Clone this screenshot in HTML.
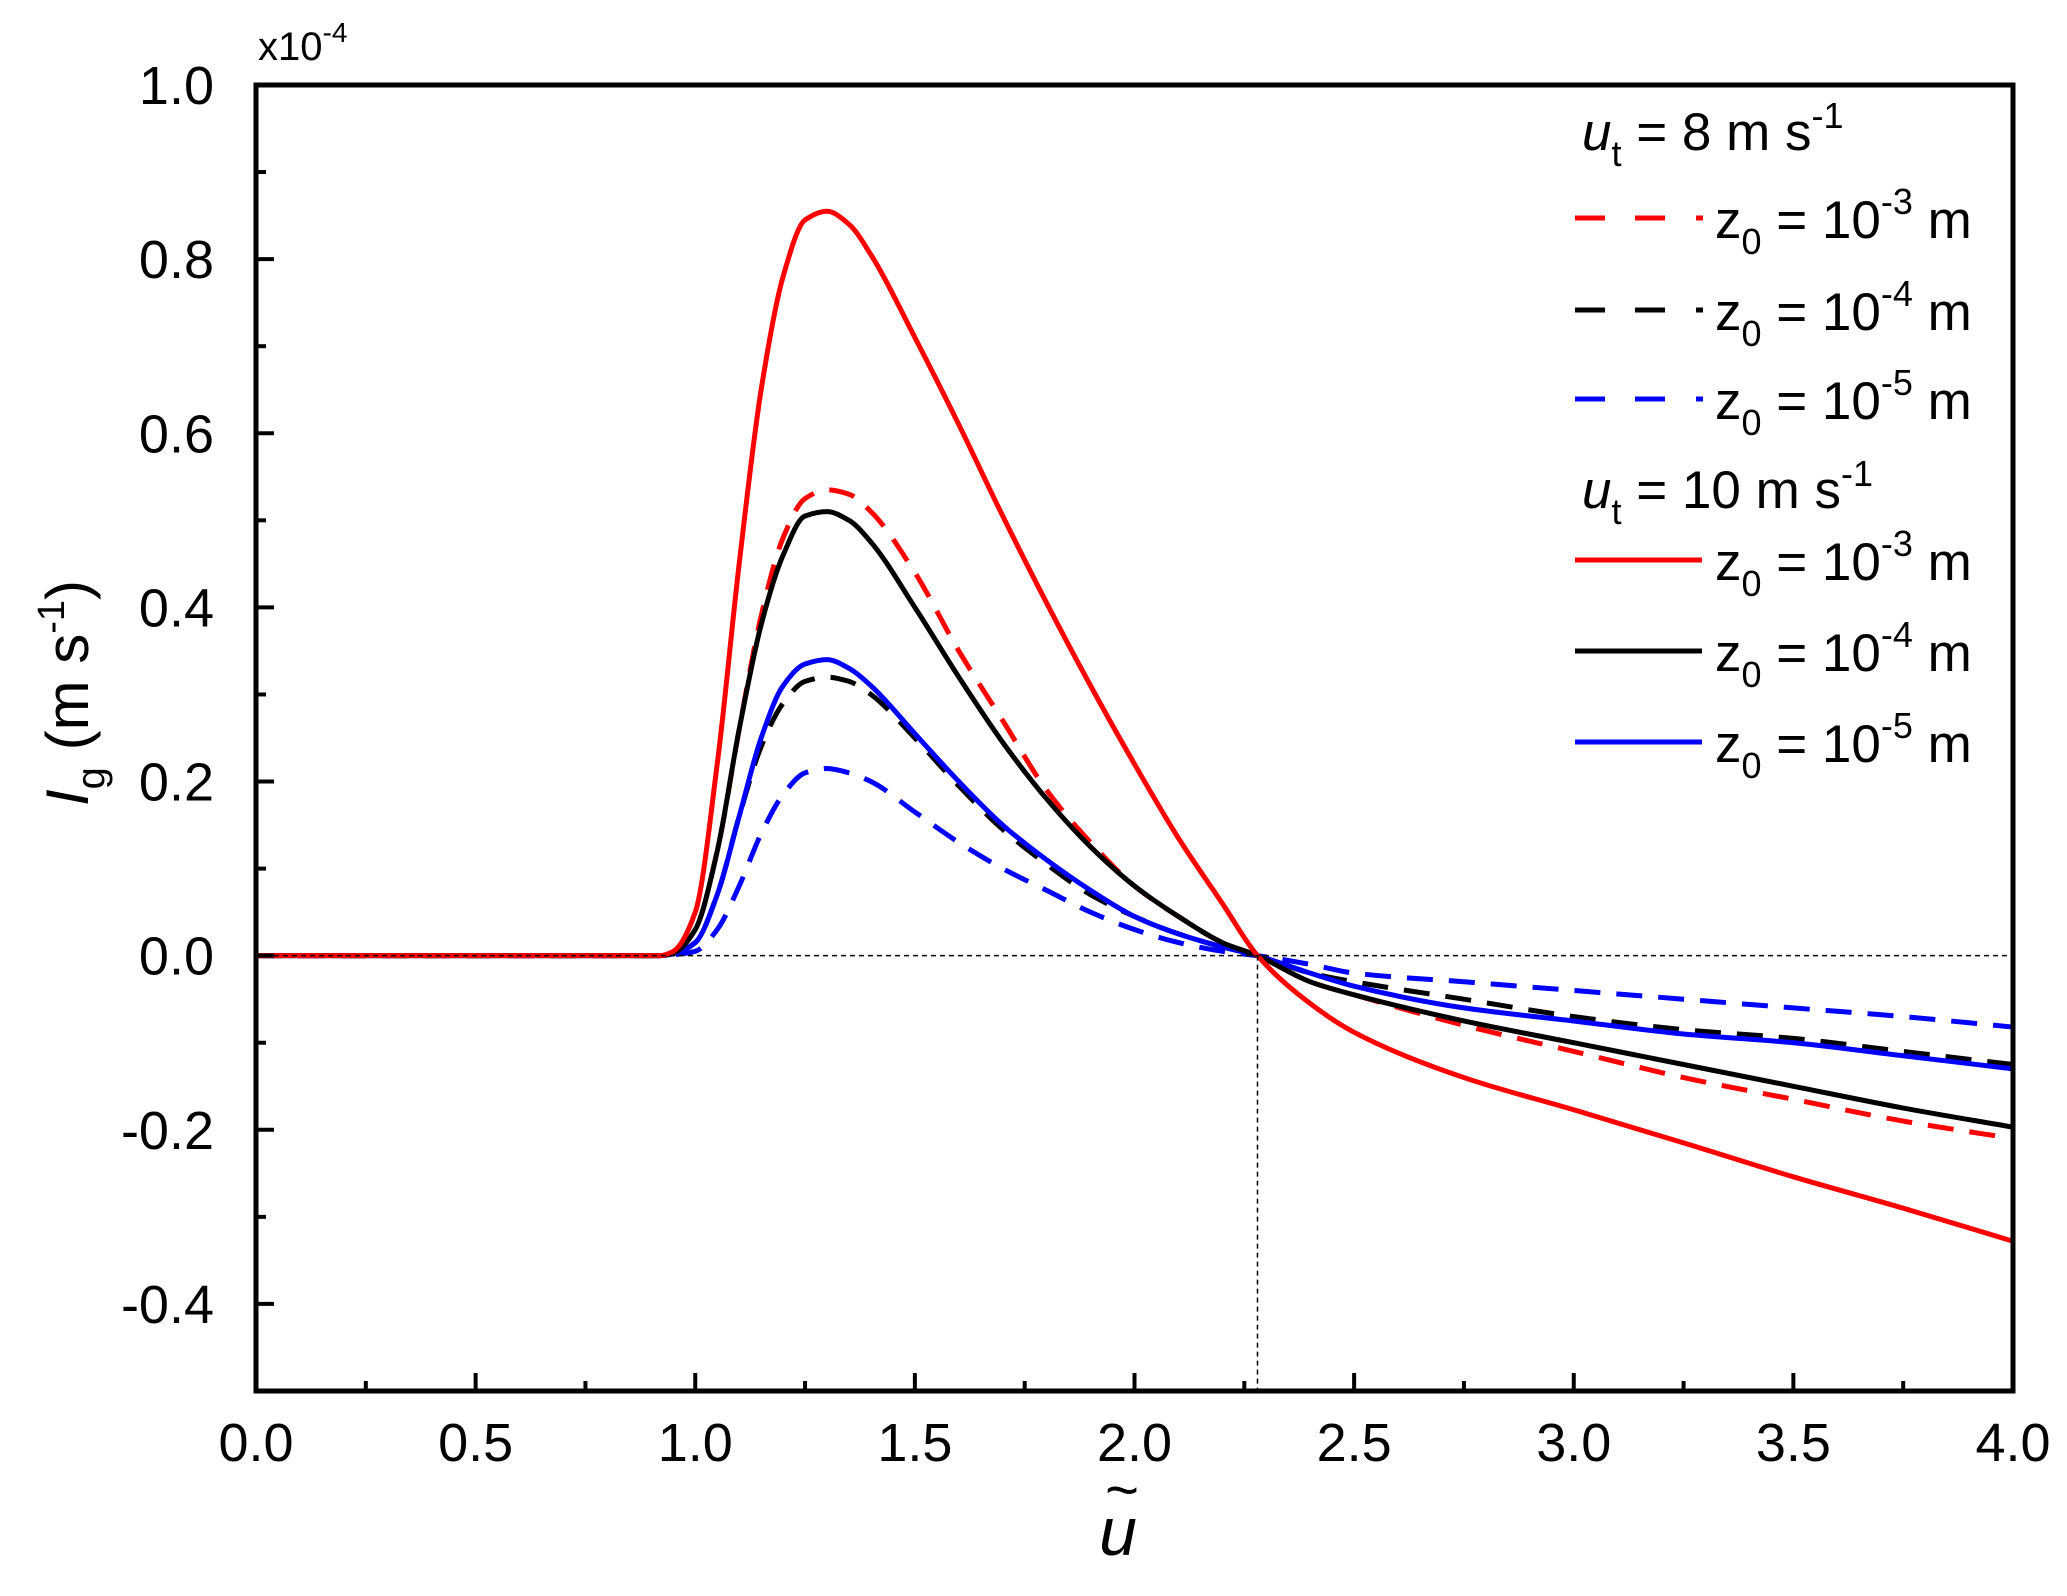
<!DOCTYPE html>
<html><head><meta charset="utf-8"><style>
html,body{margin:0;padding:0;background:#fff;}
svg{display:block;font-family:"Liberation Sans",Arial,sans-serif;}
</style></head><body>
<svg id="chart" width="2067" height="1596" viewBox="0 0 2067 1596">
<g id="series"></g>
<g id="axes"></g>
<g id="legend"></g>
</svg>
<script>
const xs = [0,0.92,0.95,1.0,1.05,1.1,1.15,1.2,1.25,1.3,1.35,1.4,1.5,1.6,1.7,1.8,1.9,2.0,2.1,2.2,2.28,2.4,2.5,2.75,3.0,3.25,3.5,3.75,4.0];
const redSolid   = [0,0,0.005,0.05,0.22,0.45,0.65,0.78,0.845,0.855,0.84,0.805,0.71,0.61,0.505,0.405,0.31,0.22,0.135,0.06,0,-0.055,-0.088,-0.14,-0.177,-0.215,-0.254,-0.29,-0.328];
const blackSolid = [0,0,0.003,0.03,0.12,0.26,0.38,0.46,0.505,0.51,0.50,0.475,0.40,0.32,0.245,0.18,0.125,0.08,0.045,0.015,0,-0.03,-0.045,-0.075,-0.10,-0.125,-0.15,-0.175,-0.197];
const blueSolid  = [0,0,0.002,0.015,0.07,0.16,0.25,0.31,0.335,0.34,0.33,0.31,0.255,0.20,0.15,0.11,0.075,0.045,0.025,0.01,0,-0.02,-0.035,-0.06,-0.075,-0.09,-0.10,-0.115,-0.13];
const redDash    = [0,0,0.003,0.03,0.12,0.26,0.39,0.48,0.525,0.535,0.53,0.51,0.44,0.35,0.27,0.19,0.13,0.08,0.045,0.015,0,-0.03,-0.045,-0.08,-0.11,-0.14,-0.165,-0.19,-0.21];
const blackDash  = [0,0,0.002,0.015,0.07,0.16,0.24,0.29,0.315,0.32,0.315,0.30,0.25,0.195,0.145,0.105,0.07,0.045,0.025,0.01,0,-0.02,-0.03,-0.05,-0.07,-0.085,-0.095,-0.11,-0.125];
const blueDash   = [0,0,0.001,0.005,0.03,0.08,0.14,0.185,0.21,0.215,0.21,0.20,0.165,0.13,0.10,0.075,0.05,0.03,0.015,0.005,0,-0.01,-0.02,-0.03,-0.04,-0.05,-0.06,-0.07,-0.082];
const xTicks = [0,0.5,1.0,1.5,2.0,2.5,3.0,3.5,4.0];
const xTickLabels = ["0.0","0.5","1.0","1.5","2.0","2.5","3.0","3.5","4.0"];
const yTicks = [-0.4,-0.2,0,0.2,0.4,0.6,0.8,1.0];
const yTickLabels = ["-0.4","-0.2","0.0","0.2","0.4","0.6","0.8","1.0"];
const crossX = 2.28;

const L=256,R=2013,T=85,B=1391,xmin=0,xmax=4,ymin=-0.5,ymax=1.0;
const X=v=>L+(v-xmin)/(xmax-xmin)*(R-L);
const Y=v=>B-(v-ymin)/(ymax-ymin)*(B-T);
const NS="http://www.w3.org/2000/svg";
function mk(tag,attrs,parent){const e=document.createElementNS(NS,tag);for(const k in attrs)e.setAttribute(k,attrs[k]);parent.appendChild(e);return e;}
const sg=document.getElementById('series'),ag=document.getElementById('axes');

let hz=mk('line',{x1:X(0),x2:X(4),y1:Y(0),y2:Y(0),stroke:'#000','stroke-width':1.5,'stroke-dasharray':'5,4'},ag);


let vt=mk('line',{x1:X(crossX),x2:X(crossX),y1:Y(0),y2:B,stroke:'#000','stroke-width':1.5,'stroke-dasharray':'5,4'},ag);



// monotone cubic (Fritsch-Carlson) in pixel space
function pathFor(ys){
  const px=xs.map(X),py=ys.map(Y),n=px.length;
  const d=[],m=new Array(n);
  for(let i=0;i<n-1;i++)d.push((py[i+1]-py[i])/(px[i+1]-px[i]));
  m[0]=d[0];m[n-1]=d[n-2];
  for(let i=1;i<n-1;i++){
    if(d[i-1]*d[i]<=0)m[i]=0;
    else{const h0=px[i]-px[i-1],h1=px[i+1]-px[i];const w1=2*h1+h0,w2=h1+2*h0;m[i]=(w1+w2)/(w1/d[i-1]+w2/d[i]);}
  }
  let s='M'+px[0]+','+py[0];
  for(let i=0;i<n-1;i++){
    const h=(px[i+1]-px[i])/3;
    s+=` C${px[i]+h},${py[i]+m[i]*h} ${px[i+1]-h},${py[i+1]-m[i+1]*h} ${px[i+1]},${py[i+1]}`;
  }
  return s;
}
const series=[
  {ys:blueDash,c:'#0000ff',dash:'26,16',n:'line-ut8-z0-1e-5'},
  {ys:blackDash,c:'#000',dash:'26,16',n:'line-ut8-z0-1e-4'},
  {ys:redDash,c:'#ff0000',dash:'26,16',n:'line-ut8-z0-1e-3'},
  {ys:blueSolid,c:'#0000ff',dash:null,n:'line-ut10-z0-1e-5'},
  {ys:blackSolid,c:'#000',dash:null,n:'line-ut10-z0-1e-4'},
  {ys:redSolid,c:'#ff0000',dash:null,n:'line-ut10-z0-1e-3'}
];
series.forEach(s=>{
  const a={d:pathFor(s.ys),fill:'none',stroke:s.c,'stroke-width':5};
  if(s.dash)a['stroke-dasharray']=s.dash;
  const e=mk('path',a,sg);
  
  
});

let fr=mk('rect',{x:L,y:T,width:R-L,height:B-T,fill:'none',stroke:'#000','stroke-width':5},ag);


for(let v=0;v<=4.0001;v+=0.25){
  const maj=Math.abs(v*2-Math.round(v*2))<1e-6;
  const t=mk('line',{x1:X(v),x2:X(v),y1:B,y2:B-(maj?18:10),stroke:'#000','stroke-width':4},ag);
  
  
}
xTicks.forEach((v,i)=>{
  const t=mk('text',{x:X(v),y:B+70,'text-anchor':'middle','font-size':54},ag);
  t.textContent=xTickLabels[i];
  
  
});
for(let k=-5;k<=10;k++){
  const v=k/10,maj=k%2===0;
  const t=mk('line',{x1:L,x2:L+(maj?18:10),y1:Y(v),y2:Y(v),stroke:'#000','stroke-width':4},ag);
  
  
}
yTicks.forEach((v,i)=>{
  const t=mk('text',{x:L-42,y:Y(v)+19,'text-anchor':'end','font-size':54},ag);
  t.textContent=yTickLabels[i];
  
  
});
</script>
<svg style="position:absolute;left:0;top:0" width="2067" height="1596">
<text x="258" y="60" font-size="40" font-family="Liberation Sans,sans-serif">x10<tspan dy="-18" font-size="28">-4</tspan></text>
<text transform="translate(88,693) rotate(-90)" text-anchor="middle" font-size="60" font-family="Liberation Sans,sans-serif"><tspan font-style="italic">I</tspan><tspan font-size="40" dy="16">g</tspan><tspan dy="-16"> (m s</tspan><tspan font-size="38" dy="-24">-1</tspan><tspan dy="24">)</tspan></text>
<text x="1118" y="1555" text-anchor="middle" font-size="68" font-style="italic" font-family="Liberation Sans,sans-serif">u</text>
<text x="1122" y="1510" text-anchor="middle" font-size="58" font-family="Liberation Sans,sans-serif">~</text>
<g font-family="Liberation Sans,sans-serif" font-size="53">
<text x="1582" y="150"><tspan font-style="italic">u</tspan><tspan font-size="36" dy="16">t</tspan><tspan dy="-16"> = 8 m s</tspan><tspan font-size="36" dy="-22">-1</tspan></text>
<text x="1582" y="508"><tspan font-style="italic">u</tspan><tspan font-size="36" dy="16">t</tspan><tspan dy="-16"> = 10 m s</tspan><tspan font-size="36" dy="-22">-1</tspan></text>
<g><line x1="1575" x2="1703" y1="218" y2="218" stroke="#f00" stroke-width="5" stroke-dasharray="30,30,30,31,7,100"/><text x="1715" y="238">z<tspan font-size="36" dy="16">0</tspan><tspan dy="-16"> = 10</tspan><tspan font-size="36" dy="-24">-3</tspan><tspan dy="24"> m</tspan></text></g>
<g><line x1="1575" x2="1703" y1="310" y2="310" stroke="#000" stroke-width="5" stroke-dasharray="30,30,30,31,7,100"/><text x="1715" y="330">z<tspan font-size="36" dy="16">0</tspan><tspan dy="-16"> = 10</tspan><tspan font-size="36" dy="-24">-4</tspan><tspan dy="24"> m</tspan></text></g>
<g><line x1="1575" x2="1703" y1="399" y2="399" stroke="#00f" stroke-width="5" stroke-dasharray="30,30,30,31,7,100"/><text x="1715" y="419">z<tspan font-size="36" dy="16">0</tspan><tspan dy="-16"> = 10</tspan><tspan font-size="36" dy="-24">-5</tspan><tspan dy="24"> m</tspan></text></g>
<g><line x1="1575" x2="1702" y1="560" y2="560" stroke="#f00" stroke-width="5"/><text x="1715" y="580">z<tspan font-size="36" dy="16">0</tspan><tspan dy="-16"> = 10</tspan><tspan font-size="36" dy="-24">-3</tspan><tspan dy="24"> m</tspan></text></g>
<g><line x1="1575" x2="1702" y1="651" y2="651" stroke="#000" stroke-width="5"/><text x="1715" y="671">z<tspan font-size="36" dy="16">0</tspan><tspan dy="-16"> = 10</tspan><tspan font-size="36" dy="-24">-4</tspan><tspan dy="24"> m</tspan></text></g>
<g><line x1="1575" x2="1702" y1="742" y2="742" stroke="#00f" stroke-width="5"/><text x="1715" y="762">z<tspan font-size="36" dy="16">0</tspan><tspan dy="-16"> = 10</tspan><tspan font-size="36" dy="-24">-5</tspan><tspan dy="24"> m</tspan></text></g>
</g>
</svg>
</body></html>
